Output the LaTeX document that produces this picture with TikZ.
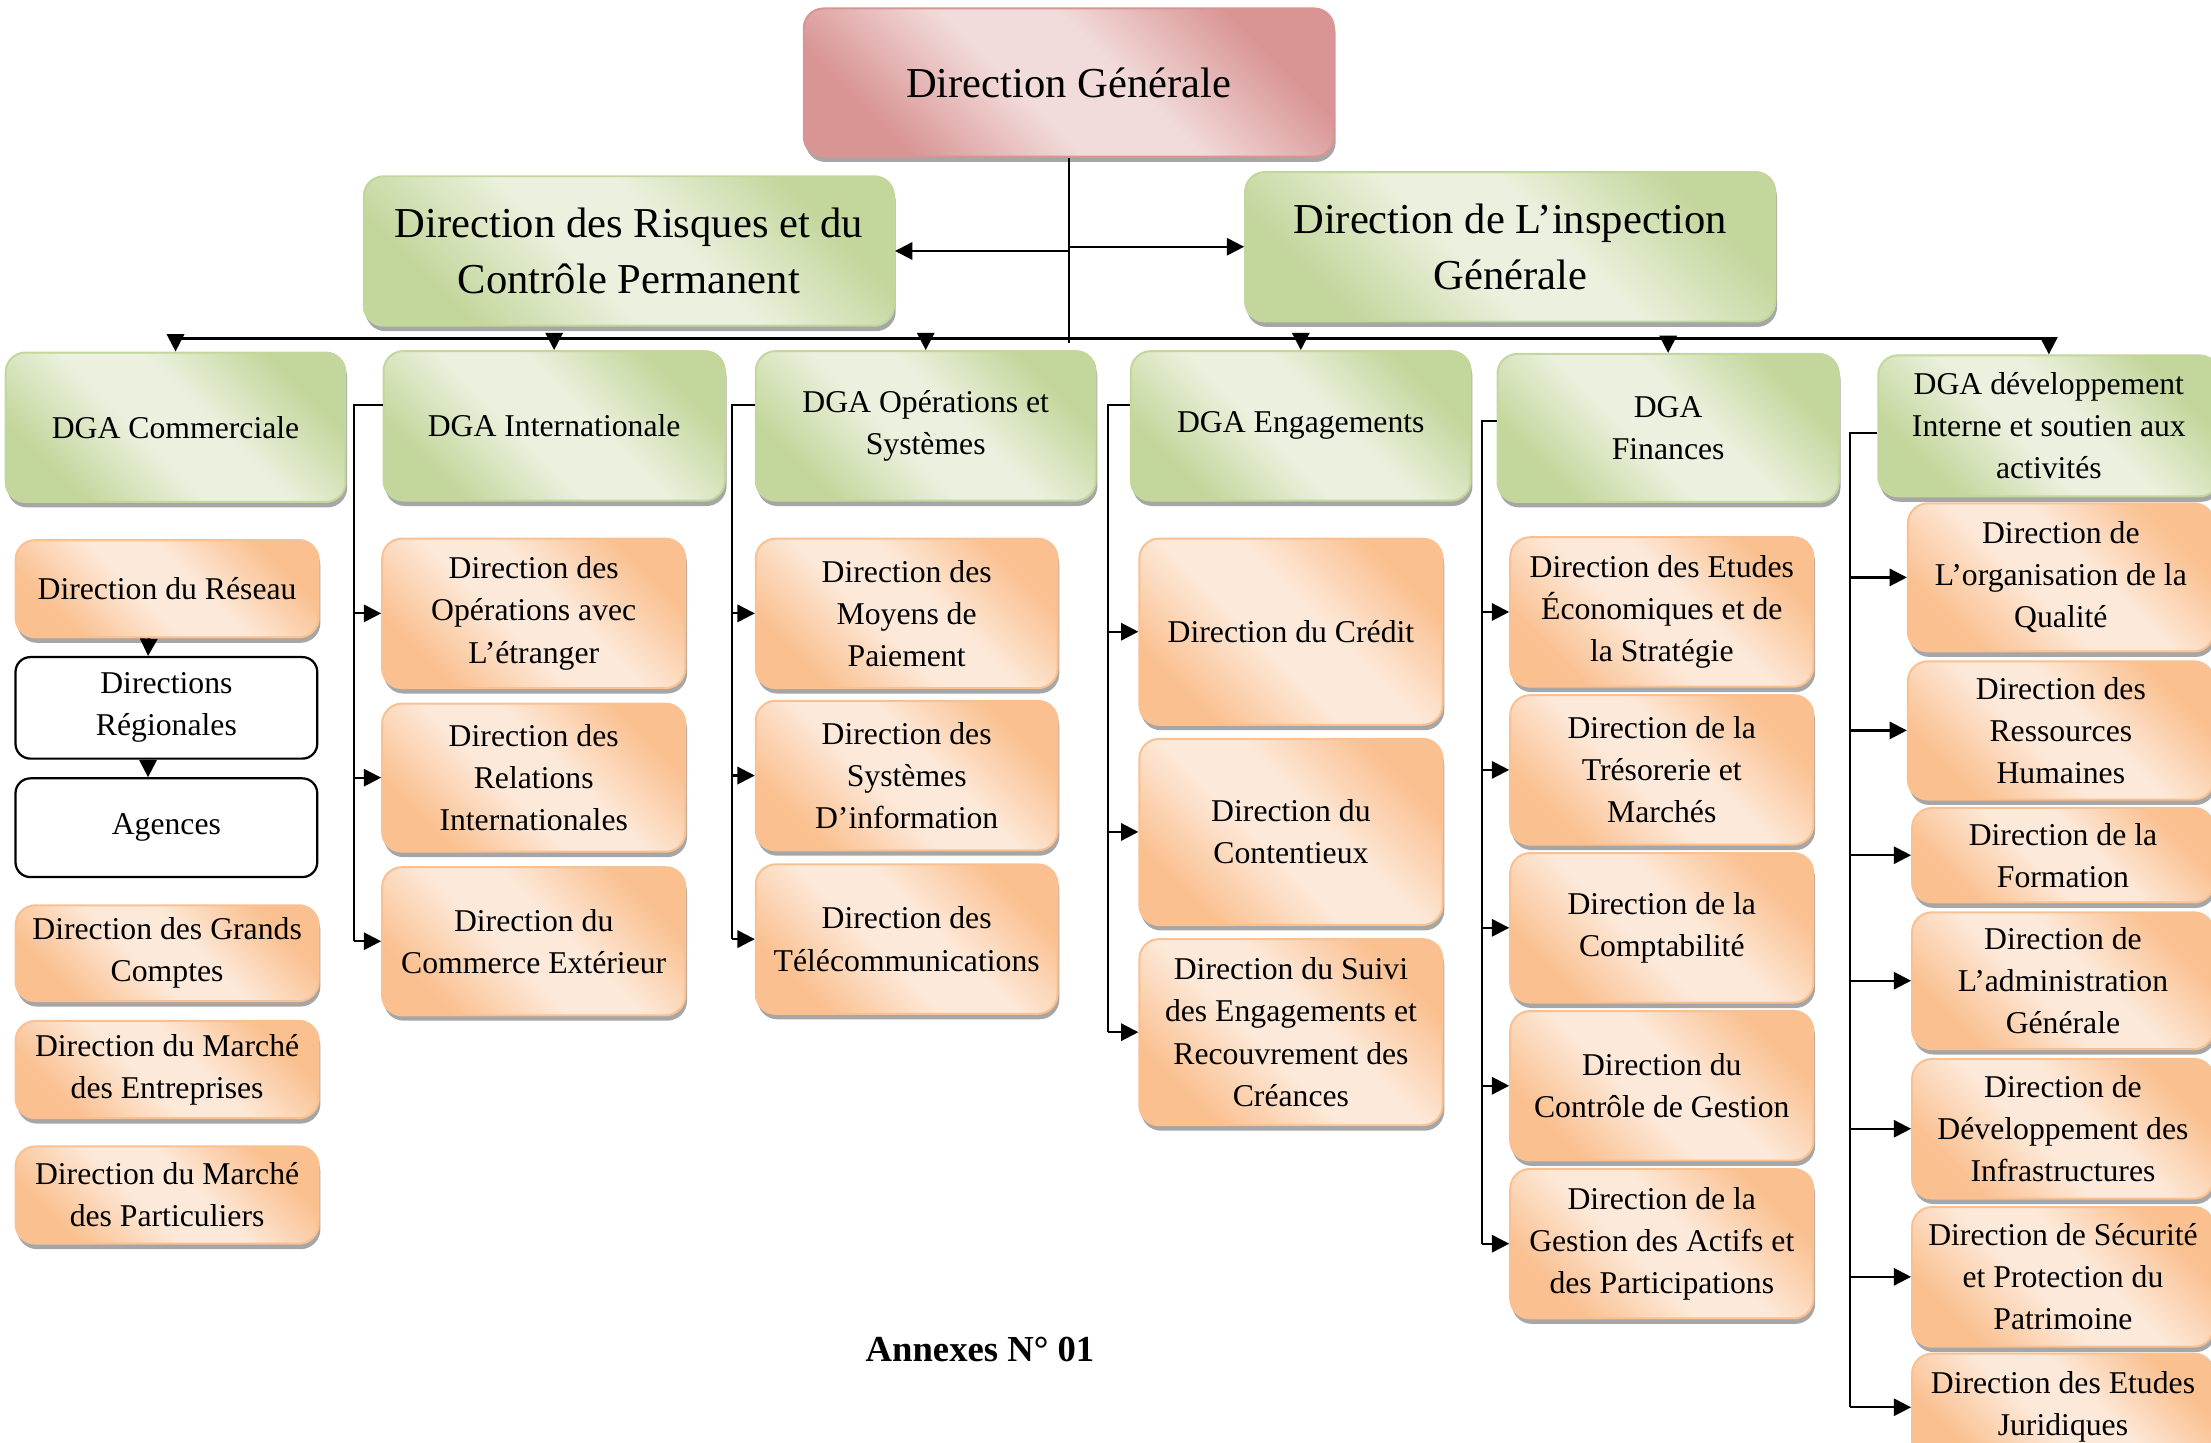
\documentclass[tikz,border=0pt]{standalone}
\usepackage{fontspec}
\setmainfont{Liberation Serif}
\usetikzlibrary{arrows.meta,shadows}

% box colours: dark rim / light centre of each glossy fill
\definecolor{gDark}{HTML}{C3D69B}
\definecolor{gLight}{HTML}{EBF1DE}
\definecolor{oDark}{HTML}{FAC090}
\definecolor{oLight}{HTML}{FDE9D9}
\definecolor{rDark}{HTML}{D99594}
\definecolor{rLight}{HTML}{F2DCDB}

\pgfdeclarehorizontalshading{shGreen}{100bp}{color(0bp)=(gDark); color(26bp)=(gDark); color(44bp)=(gLight); color(56bp)=(gLight); color(74bp)=(gDark); color(100bp)=(gDark)}
\pgfdeclarehorizontalshading{shOrange}{100bp}{color(0bp)=(oDark); color(26bp)=(oDark); color(44bp)=(oLight); color(56bp)=(oLight); color(74bp)=(oDark); color(100bp)=(oDark)}
\pgfdeclarehorizontalshading{shRose}{100bp}{color(0bp)=(rDark); color(26bp)=(rDark); color(44bp)=(rLight); color(56bp)=(rLight); color(74bp)=(rDark); color(100bp)=(rDark)}

\tikzset{
  conn/.style={draw=black, line width=0.9pt},
  arr/.style={conn, -{Triangle[length=7pt,width=7pt]}},
  basebox/.style={rounded corners=8pt, inner sep=0pt, align=center,
    font=\fontsize{12.8}{17}\selectfont,
    drop shadow={shadow xshift=0.7pt, shadow yshift=-2.2pt, fill=black, opacity=0.35}},
  bigtext/.style={font=\fontsize{17.2}{22.7}\selectfont},
  rosebox/.style={basebox, draw=rDark, line width=0.8pt, shading=shRose, shading angle=45},
  greenbox/.style={basebox, draw=gDark, line width=0.8pt, shading=shGreen, shading angle=45},
  orangebox/.style={basebox, draw=oDark, line width=0.8pt, shading=shOrange, shading angle=45},
  plainbox/.style={rounded corners=6pt, inner sep=0pt, align=center, draw=black,
    line width=0.9pt, fill=white, font=\fontsize{12.8}{17}\selectfont},
}

% \orgnode{style}{x1}{y1}{x2}{y2}{name}{text}
\newcommand\orgnode[7]{\node[#1,minimum width={(#4-#2)*0.02cm},minimum height={(#5-#3)*0.02cm}] (#6) at ({(#2+#4)/2},{(#3+#5)/2}) {#7};}

\begin{document}
\begin{tikzpicture}[x=0.02cm,y=-0.02cm]
\useasboundingbox (0,0) rectangle (1568,1023);
\clip (0,0) rectangle (1568,1023);

% top management
\orgnode{rosebox,bigtext}{570}{6}{946}{111}{dg}{Direction Générale}
\orgnode{greenbox,bigtext}{258}{125}{634}{231}{risk}{Direction des Risques et du\\Contrôle Permanent}
\orgnode{greenbox,bigtext}{883}{122}{1259}{228}{insp}{Direction de L’inspection\\Générale}

% deputy directorates
\orgnode{greenbox}{4}{250}{245}{356}{com}{DGA Commerciale}
\orgnode{greenbox}{272}{249}{514}{355}{intl}{DGA Internationale}
\orgnode{greenbox}{536}{249}{777}{355}{ops}{DGA Opérations et\\Systèmes}
\orgnode{greenbox}{802}{249}{1043}{355}{eng}{DGA Engagements}
\orgnode{greenbox}{1062}{251}{1304}{356}{fin}{DGA\\Finances}
\orgnode{greenbox}{1332}{252}{1574}{352}{dev}{DGA développement\\Interne et soutien aux\\activités}

% commercial branch
\orgnode{orangebox}{11}{383}{226}{452}{reseau}{Direction du Réseau}
\orgnode{plainbox}{11}{466}{225}{538}{regio}{Directions\\Régionales}
\orgnode{plainbox}{11}{552}{225}{622}{agences}{Agences}
\orgnode{orangebox}{11}{642}{226}{710}{grands}{Direction des Grands\\Comptes}
\orgnode{orangebox}{11}{724}{226}{793}{entr}{Direction du Marché\\des Entreprises}
\orgnode{orangebox}{11}{813}{226}{882}{part}{Direction du Marché\\des Particuliers}

% international branch
\orgnode{orangebox}{271}{382}{486}{488}{opetr}{Direction des\\Opérations avec\\L’étranger}
\orgnode{orangebox}{271}{499}{486}{604}{relint}{Direction des\\Relations\\Internationales}
\orgnode{orangebox}{271}{615}{486}{720}{comext}{Direction du\\Commerce Extérieur}

% operations and systems branch
\orgnode{orangebox}{536}{382}{750}{488}{moyens}{Direction des\\Moyens de\\Paiement}
\orgnode{orangebox}{536}{497}{750}{603}{sysinfo}{Direction des\\Systèmes\\D’information}
\orgnode{orangebox}{536}{613}{750}{719}{telecom}{Direction des\\Télécommunications}

% commitments branch
\orgnode{orangebox}{808}{382}{1023}{514}{credit}{Direction du Crédit}
\orgnode{orangebox}{808}{524}{1023}{656}{conten}{Direction du\\Contentieux}
\orgnode{orangebox}{808}{666}{1023}{798}{suivi}{Direction du Suivi\\des Engagements et\\Recouvrement des\\Créances}

% finance branch
\orgnode{orangebox}{1071}{381}{1286}{487}{etudes}{Direction des Etudes\\Économiques et de\\la Stratégie}
\orgnode{orangebox}{1071}{493}{1286}{599}{treso}{Direction de la\\Trésorerie et\\Marchés}
\orgnode{orangebox}{1071}{605}{1286}{711}{compta}{Direction de la\\Comptabilité}
\orgnode{orangebox}{1071}{717}{1286}{823}{ctrl}{Direction du\\Contrôle de Gestion}
\orgnode{orangebox}{1071}{829}{1286}{935}{actifs}{Direction de la\\Gestion des Actifs et\\des Participations}

% internal development branch
\orgnode{orangebox}{1353}{357}{1570}{462}{qual}{Direction de\\L’organisation de la\\Qualité}
\orgnode{orangebox}{1353}{469}{1570}{567}{rh}{Direction des\\Ressources\\Humaines}
\orgnode{orangebox}{1356}{573}{1570}{640}{form}{Direction de la\\Formation}
\orgnode{orangebox}{1356}{647}{1570}{744}{admin}{Direction de\\L’administration\\Générale}
\orgnode{orangebox}{1356}{751}{1570}{850}{infra}{Direction de\\Développement des\\Infrastructures}
\orgnode{orangebox}{1356}{856}{1570}{955}{secu}{Direction de Sécurité\\et Protection du\\Patrimoine}
\orgnode{orangebox}{1356}{960}{1570}{1036}{jurid}{Direction des Etudes\\Juridiques}

\node[font=\bfseries\fontsize{14.8}{18}\selectfont] (annex) at (695,957) {Annexes N° 01};

% trunk from the general direction
\coordinate (foot) at (758,243);
\coordinate (busL) at (122,240);
\coordinate (busR) at (1451,240);
\draw[conn] (dg.south) -- (foot);
\draw[arr] (risk.east -| dg.south) -- (risk.east);
\draw[arr] (insp.west -| dg.south) -- (insp.west);
\draw[conn] (busL) -- (busR);
\foreach \n in {com,intl,ops,eng,fin,dev}
  \draw[arr] (\n.north |- busL) -- (\n.north);

% commercial chain
\draw[arr] ([xshift=-0.26cm]reseau.south) -- ([xshift=-0.26cm]regio.north);
\draw[arr] ([xshift=-0.26cm]regio.south) -- ([xshift=-0.26cm]agences.north);

% branch spines
\coordinate (s2) at (251,0);
\coordinate (s3) at (519,0);
\coordinate (s4) at (786,0);
\coordinate (s5) at (1051,0);
\coordinate (s6) at (1312,0);

\draw[conn] ([yshift=0.3cm]intl.west) -| (s2 |- comext.west);
\foreach \n in {opetr,relint,comext}
  \draw[arr] (s2 |- \n.west) -- (\n.west);

\draw[conn] ([yshift=0.3cm]ops.west) -| (s3 |- telecom.west);
\foreach \n in {moyens,sysinfo,telecom}
  \draw[arr] (s3 |- \n.west) -- (\n.west);

\draw[conn] ([yshift=0.3cm]eng.west) -| (s4 |- suivi.west);
\foreach \n in {credit,conten,suivi}
  \draw[arr] (s4 |- \n.west) -- (\n.west);

\draw[conn] ([yshift=0.1cm]fin.west) -| (s5 |- actifs.west);
\foreach \n in {etudes,treso,compta,ctrl,actifs}
  \draw[arr] (s5 |- \n.west) -- (\n.west);

\draw[conn] ([yshift=-0.1cm]dev.west) -| (s6 |- jurid.west);
\foreach \n in {qual,rh,form,admin,infra,secu,jurid}
  \draw[arr] (s6 |- \n.west) -- (\n.west);
\end{tikzpicture}
\end{document}
